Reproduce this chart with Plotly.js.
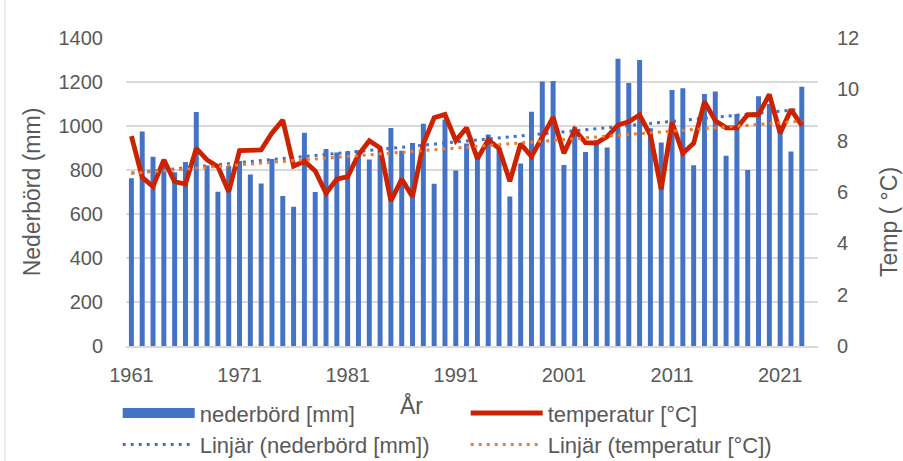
<!DOCTYPE html>
<html>
<head>
<meta charset="utf-8">
<script src="https://cdn.plot.ly/plotly-3.0.1.min.js"></script>
<style>html,body{margin:0;padding:0;background:#fff;}#chart{width:903px;height:461px;}</style>
</head>
<body>
<div id="chart"></div>
<script>
// Years 1961–2023
const years = [];
for (let y = 1961; y <= 2023; y++) years.push(y);

// Annual precipitation [mm]
const nederbord = [
  762, 975, 860, 845, 790, 836, 1064, 820, 701, 818,
  841, 780, 739, 850, 682, 633, 969, 700, 896, 879,
  885, 890, 848, 899, 991, 888, 923, 1010, 737, 1030,
  798, 921, 880, 961, 900, 679, 829, 1065, 1202, 1205,
  823, 995, 882, 935, 902, 1306, 1195, 1300, 990, 925,
  1164, 1172, 822, 1145, 1157, 865, 1055, 800, 1135, 1100,
  985, 884, 1178
];

// Annual mean temperature [°C]
const temperatur = [
  8.18, 6.57, 6.21, 7.25, 6.40, 6.31, 7.70, 7.25, 6.99, 6.01,
  7.61, 7.61, 7.64, 8.30, 8.80, 7.01, 7.20, 6.82, 5.95, 6.50,
  6.60, 7.45, 8.00, 7.72, 5.65, 6.50, 5.82, 7.88, 8.89, 9.02,
  8.00, 8.50, 7.29, 8.03, 7.70, 6.42, 7.88, 7.38, 8.19, 8.91,
  7.51, 8.43, 7.92, 7.91, 8.16, 8.61, 8.74, 9.00, 8.22, 6.11,
  8.71, 7.51, 7.90, 9.52, 8.78, 8.50, 8.50, 9.01, 9.01, 9.80,
  8.29, 9.21, 8.60
];

const xTickVals = [1961, 1971, 1981, 1991, 2001, 2011, 2021];
const xTickText = ['1961', '1971', '1981', '1991', '2001', '2011', '2021'];
const yLeftTicks = [0, 200, 400, 600, 800, 1000, 1200, 1400];
const yRightTicks = [0, 2, 4, 6, 8, 10, 12];

// Linear least-squares trend (as Excel "Linjär" trendline)
function linFit(xs, ys) {
  const n = xs.length;
  let sx = 0, sy = 0, sxx = 0, sxy = 0;
  for (let i = 0; i < n; i++) { sx += xs[i]; sy += ys[i]; sxx += xs[i]*xs[i]; sxy += xs[i]*ys[i]; }
  const b = (n*sxy - sx*sy) / (n*sxx - sx*sx);
  const a = (sy - b*sx) / n;
  return xs.map(x => a + b*x);
}
const trendN = linFit(years, nederbord);
const trendT = linFit(years, temperatur);

const FONT = 'Liberation Sans, Arial, sans-serif';
const TXT = '#595959';
const BLUE = '#4472C4';

const traces = [
  {
    type: 'bar', x: years, y: nederbord, name: 'nederbörd [mm]',
    marker: {color: BLUE}, yaxis: 'y', showlegend: false, legendgroup: 'n'
  },
  // legend key for the bars (wide block like the original's legend)
  {
    type: 'scatter', mode: 'lines', x: [null], y: [null], name: 'nederbörd [mm]',
    line: {color: BLUE, width: 18}, yaxis: 'y', legendrank: 1, legendgroup: 'n', hoverinfo: 'skip'
  },
  {
    type: 'scatter', mode: 'lines', x: years, y: trendN, name: 'Linjär (nederbörd [mm])',
    line: {color: BLUE, width: 3, dash: '3px,5px'}, yaxis: 'y', legendrank: 3
  },
  {
    type: 'scatter', mode: 'lines', x: years, y: temperatur, name: 'temperatur [°C]',
    line: {color: '#CC2200', width: 4.8}, yaxis: 'y2', legendrank: 2
  },
  {
    type: 'scatter', mode: 'lines', x: years, y: trendT, name: 'Linjär (temperatur [°C])',
    line: {color: '#ED7D31', width: 3, dash: '3px,5px'}, yaxis: 'y2', legendrank: 4
  }
];

const layout = {
  width: 903, height: 461,
  margin: {l: 126, r: 85, t: 38, b: 115, pad: 0, autoexpand: false},
  paper_bgcolor: '#ffffff', plot_bgcolor: '#ffffff',
  font: {family: FONT, color: TXT, size: 20},
  bargap: 0.54,
  showlegend: true,
  xaxis: {
    type: 'linear', range: [1960.5, 2024.5],
    tickmode: 'array', tickvals: xTickVals, ticktext: xTickText,
    showgrid: false, zeroline: false,
    showline: true, linecolor: '#D9D9D9', linewidth: 1.5,
    ticks: '', ticklabelstandoff: 10,
    tickfont: {size: 20, color: TXT, family: FONT}
  },
  yaxis: {
    range: [0, 1400], tickmode: 'array', tickvals: yLeftTicks,
    showgrid: true, gridcolor: '#D9D9D9', gridwidth: 1.5,
    zeroline: false, showline: false, ticks: '',
    ticklabelstandoff: 22,
    tickfont: {size: 20, color: TXT, family: FONT},
    title: {text: 'Nederbörd (mm)', font: {size: 23, color: TXT, family: FONT}, standoff: 11}
  },
  yaxis2: {
    range: [0, 12], tickmode: 'array', tickvals: yRightTicks,
    overlaying: 'y', side: 'right',
    showgrid: false, zeroline: false, showline: false, ticks: '',
    ticklabelstandoff: 18,
    tickfont: {size: 20, color: TXT, family: FONT}
  },
  legend: {
    orientation: 'h', traceorder: 'normal',
    x: -0.012, xanchor: 'left', y: -0.15, yanchor: 'top',
    entrywidth: 261, entrywidthmode: 'pixels', itemwidth: 72,
    font: {size: 22, color: TXT, family: FONT},
    bgcolor: 'rgba(0,0,0,0)'
  },
  annotations: [
    {text: 'År', xref: 'paper', yref: 'paper', x: (411 - 126) / 692, y: (345.7 - 405) / 307.4,
     showarrow: false, xanchor: 'center', yanchor: 'middle', font: {size: 23, color: TXT, family: FONT}},
    {text: 'Temp ( °C)', xref: 'paper', yref: 'paper', x: (889 - 126) / 692, y: (345.7 - 222) / 307.4,
     textangle: -90, showarrow: false, xanchor: 'center', yanchor: 'middle', font: {size: 23, color: TXT, family: FONT}}
  ],
  shapes: [
    {type: 'line', xref: 'paper', yref: 'paper', x0: (5 - 126) / 692, x1: (5 - 126) / 692,
     y0: (345.7 - 0) / 307.4, y1: (345.7 - 461) / 307.4, line: {color: '#D9D9D9', width: 1}}
  ]
};

Plotly.newPlot('chart', traces, layout, {staticPlot: true, displayModeBar: false});
</script>
</body>
</html>
